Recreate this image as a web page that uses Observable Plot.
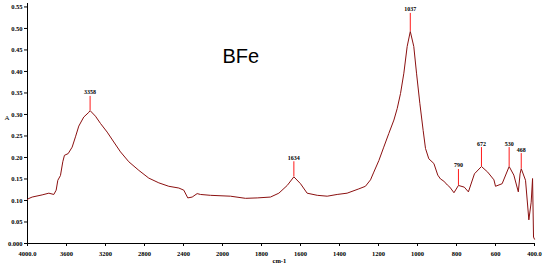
<!DOCTYPE html>
<html><head><meta charset="utf-8">
<script src="https://cdn.jsdelivr.net/npm/d3@7"></script>
<script src="https://cdn.jsdelivr.net/npm/@observablehq/plot@0.6"></script>
<style>body{margin:0;background:#fff}</style>
</head><body><div id="chart"></div>
<script>
const wavenumber = [4000,3993,3952,3850,3781,3730,3706,3689,3662,3638,3621,3583,3542,3508,3474,3423,3371,3358,3303,3251,3183,3115,3046,2961,2858,2756,2653,2551,2448,2397,2356,2311,2260,2226,2123,1959,1882,1822,1754,1711,1668,1634,1600,1566,1514,1463,1412,1361,1301,1267,1241,1224,1198,1173,1147,1121,1104,1087,1070,1053,1037,1019,1005,988,971,959,942,916,896,882,865,847,834,813,790,760,739,708,672,640,608,600,566,530,506,483,474,468,446,429,417,410,405,400];
const absorbance = [0.102,0.104,0.108,0.113,0.117,0.114,0.124,0.147,0.158,0.190,0.205,0.209,0.224,0.248,0.273,0.294,0.305,0.309,0.296,0.279,0.259,0.236,0.213,0.190,0.170,0.152,0.141,0.133,0.129,0.124,0.106,0.108,0.116,0.114,0.112,0.110,0.105,0.106,0.108,0.117,0.135,0.155,0.139,0.117,0.112,0.110,0.114,0.117,0.127,0.133,0.148,0.166,0.193,0.224,0.256,0.287,0.314,0.349,0.396,0.458,0.493,0.458,0.396,0.326,0.263,0.221,0.197,0.186,0.159,0.150,0.145,0.136,0.131,0.118,0.135,0.131,0.120,0.162,0.179,0.166,0.148,0.133,0.139,0.179,0.159,0.120,0.162,0.174,0.147,0.055,0.096,0.151,0.015,0.010];

const peakWavenumber = [3358,1037,1634,790,672,530,468];
const peakLabel = ["3358","1037","1634","790","672","530","468"];
const peakAbsorbance = [0.309,0.493,0.155,0.135,0.179,0.179,0.174];
const peakLabelAbsorbance = [0.342,0.535,0.190,0.172,0.223,0.223,0.209];

const xTicks = [4000,3600,3200,2800,2400,2000,1800,1600,1400,1200,1000,800,600,400];
const xTickLabels = ["4000.0","3600","3200","2800","2400","2000","1800","1600","1400","1200","1000","800","600","400.0"];
const yTicks = [0,0.05,0.10,0.15,0.20,0.25,0.30,0.35,0.40,0.45,0.50,0.55];
const yTickLabels = ["0.000","0.05","0.10","0.15","0.20","0.25","0.30","0.35","0.40","0.45","0.50","0.55"];

const spectrum = wavenumber.map((w,i)=>({w, a: absorbance[i]}));
const peaks = peakWavenumber.map((w,i)=>({w, a: peakAbsorbance[i], top: peakLabelAbsorbance[i], label: peakLabel[i]}));
const xt = xTicks.map((w,i)=>({w, label: xTickLabels[i]}));
const yt = yTicks.map((a,i)=>({a, label: yTickLabels[i]}));

const serif = "'Liberation Serif', 'DejaVu Serif', serif";
// instrument axis: 400 cm-1 per division above 2000, 200 cm-1 per division below
const axisBreak = w => w >= 2000 ? (4000 - w) / 400 : 5 + (2000 - w) / 200;

const W = 545, H = 270, ML = 27, MR = 11, MT = 3, MB = 27;
const chart = Plot.plot({
  width: W, height: H,
  marginLeft: ML, marginRight: MR, marginTop: MT, marginBottom: MB,
  style: {background: "#fff", fontFamily: serif},
  x: {transform: axisBreak, axis: null},
  y: {domain: [0, 0.558], axis: null},
  marks: [
    // x ticks and labels
    Plot.tickX(xt, {x: "w", insetTop: H - MT - MB, insetBottom: -3, stroke: "#000"}),
    Plot.text(xt, {x: "w", y: 0, dy: 10, text: "label", fontSize: 6.5, fontWeight: "bold", fontFamily: serif, fill: "#000"}),
    // y ticks and labels
    Plot.tickY(yt, {y: "a", insetLeft: -3, insetRight: W - ML - MR, stroke: "#000"}),
    Plot.text(yt, {y: "a", x: 4000, dx: -5, text: "label", textAnchor: "end", fontSize: 6.5, fontWeight: "bold", fontFamily: serif, fill: "#000"}),
    Plot.ruleY([0], {x1: 4000, x2: 400, stroke: "#000", strokeWidth: 1}),
    Plot.ruleX([4000], {y1: 0, y2: 0.558, stroke: "#000", strokeWidth: 1}),
    Plot.ruleX(peaks, {x: "w", y1: "a", y2: "top", stroke: "#ff1a1a", strokeWidth: 1}),
    Plot.line(spectrum, {x: "w", y: "a", stroke: "#8b1010", strokeWidth: 1}),
    Plot.text(peaks, {x: "w", y: "top", text: "label", dy: -4, fontSize: 6, fontWeight: "bold", fill: "#000", fontFamily: serif}),
    Plot.text(["BFe"], {frameAnchor: "top-left", dx: 195, dy: 45, fontSize: 20, fontFamily: "'Liberation Sans', Arial, sans-serif", fill: "#000", textAnchor: "start"}),
    Plot.text(["A"], {frameAnchor: "top-left", dx: -23, dy: 112, fontSize: 7, fontFamily: serif, fill: "#000", textAnchor: "start"}),
    Plot.text(["cm-1"], {frameAnchor: "bottom-left", dx: 245, dy: 19, fontSize: 6.5, fontWeight: "bold", fontFamily: serif, fill: "#000", textAnchor: "start"})
  ]
});
document.getElementById("chart").append(chart);
</script>
</body></html>
